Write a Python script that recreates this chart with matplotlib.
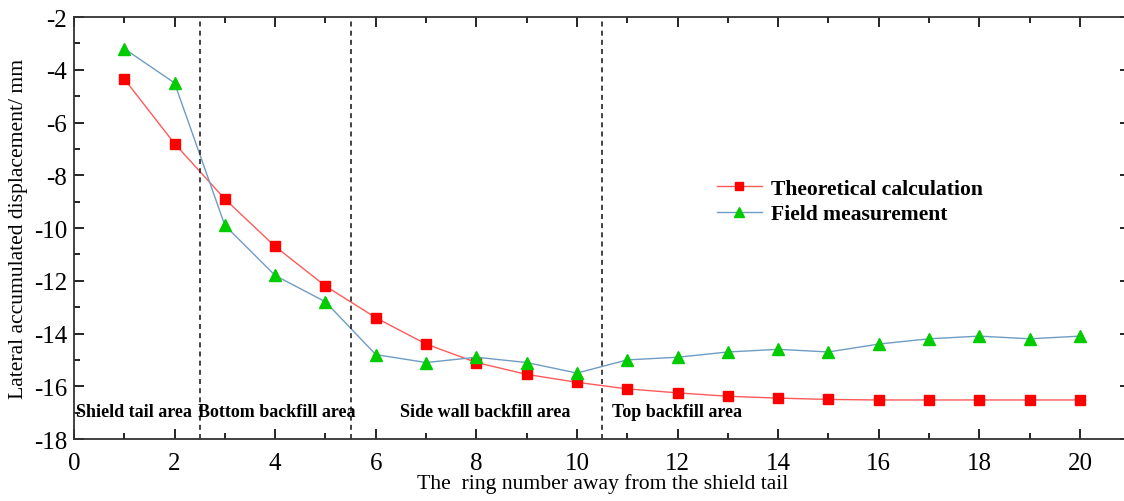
import matplotlib
matplotlib.use("Agg")
import matplotlib.pyplot as plt
from matplotlib.ticker import MultipleLocator

plt.rcParams['font.family'] = ['Liberation Serif', 'DejaVu Serif']
plt.rcParams['axes.unicode_minus'] = False

# ring numbers
rings = list(range(1, 21))

# theoretical calculation (mm)
theory = [-4.35, -6.8, -8.9, -10.7, -12.2, -13.4, -14.4, -15.1, -15.55, -15.85,
          -16.1, -16.25, -16.38, -16.45, -16.5, -16.52, -16.52, -16.52, -16.52, -16.52]

# field measurement (mm)
field = [-3.2, -4.5, -9.9, -11.8, -12.8, -14.8, -15.1, -14.9, -15.1, -15.5,
         -15.0, -14.9, -14.7, -14.6, -14.7, -14.4, -14.2, -14.1, -14.2, -14.1]

# area boundaries and labels
bounds = [2.5, 5.5, 10.5]
area_names = ["Shield tail area", "Bottom backfill area", "Side wall backfill area", "Top backfill area"]
area_x = [0.04, 2.47, 6.48, 10.7]

fig = plt.figure(figsize=(11.24, 5.02), dpi=100)
ax = fig.add_axes([0.0658, 0.1235, 0.9398, 0.8406])

ax.plot(rings, theory, '-', color='#ff5a5a', lw=1.0, marker='s', ms=7,
        mfc='#ff0000', mec='#ff0000', label='Theoretical calculation')
ax.plot(rings, field, '-', color='#6f9cc4', lw=1.0, marker='^', ms=9,
        mfc='#00cc00', mec='#00cc00', label='Field measurement')

for b in bounds:
    ax.axvline(b, color='#222222', ls=(0, (3, 2.5)), lw=1.2)

for name, x in zip(area_names, area_x):
    ax.text(x, -16.95, name, fontsize=13, fontweight='bold', va='center', ha='left')

ax.set_xlim(0, 21)
ax.set_ylim(-18, -2)
ax.xaxis.set_minor_locator(MultipleLocator(1))
ax.yaxis.set_major_locator(MultipleLocator(2))
ax.yaxis.set_minor_locator(MultipleLocator(1))
ax.set_xticks(range(0, 21, 2))
ax.tick_params(which='both', direction='in', top=True, right=True, labelsize=18, width=1.2)
ax.tick_params(which='major', length=7)
ax.tick_params(which='minor', length=4)
ax.tick_params(axis='x', pad=9)
ax.tick_params(axis='y', pad=5)
for s in ax.spines.values():
    s.set_linewidth(1.3)
    s.set_color('#333333')

ax.set_xlabel('The  ring number away from the shield tail', fontsize=15.6, labelpad=0)
ax.set_ylabel('Lateral accumulated displacement/ mm', fontsize=15.6, labelpad=4)

leg = ax.legend(loc='center left', bbox_to_anchor=(0.59, 0.563), frameon=False,
                prop={'weight': 'bold', 'size': 15.6}, handlelength=2.1,
                labelspacing=0.25, handletextpad=0.4, markerscale=0.8)

fig.savefig('out.png', dpi=100)
